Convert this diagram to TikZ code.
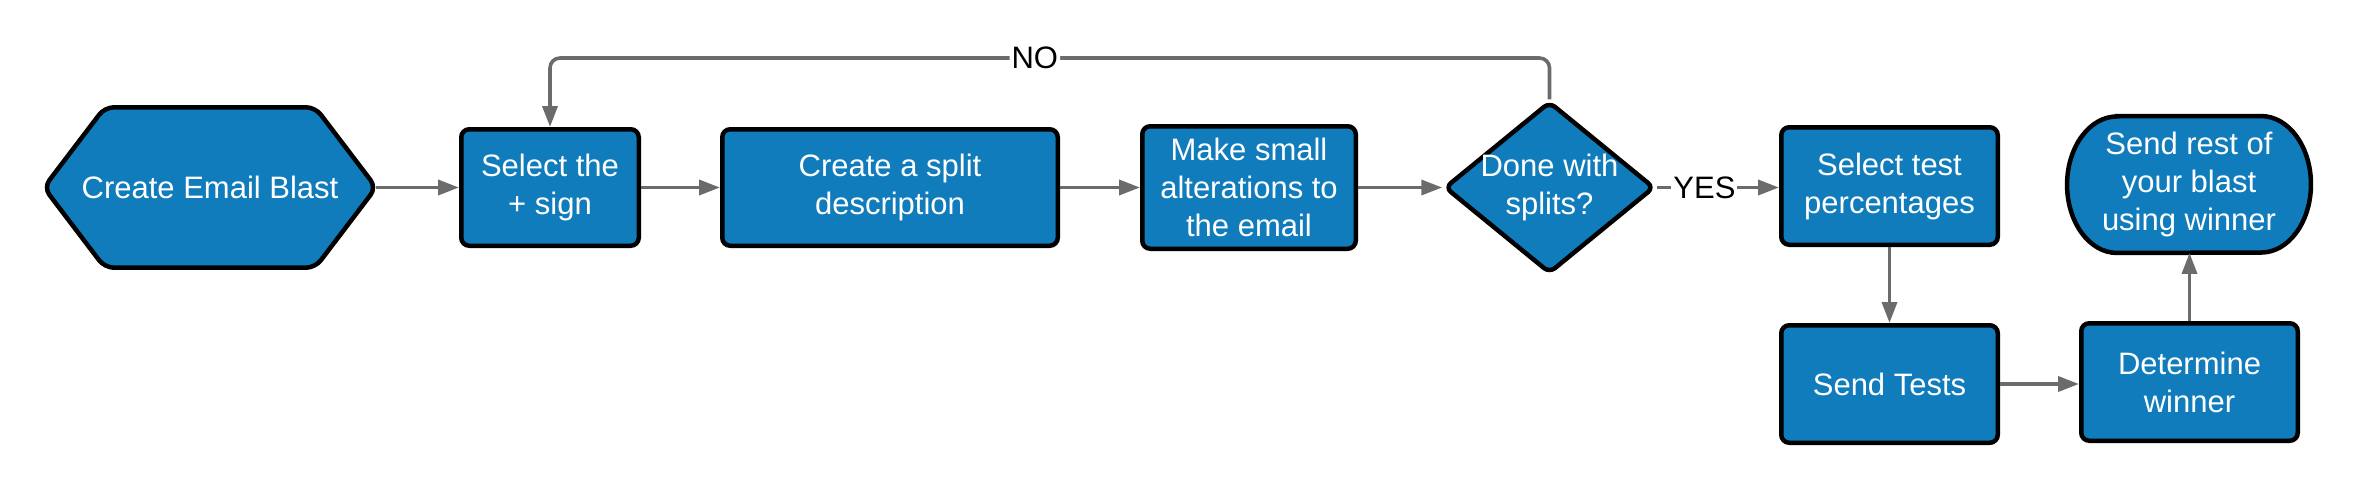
\documentclass[tikz,border=0pt]{standalone}
\usepackage{fontspec}
\setmainfont{Liberation Sans}
\usetikzlibrary{arrows.meta,shapes.geometric}
\definecolor{fillblue}{HTML}{107CBC}
\definecolor{linegray}{HTML}{6B6B6B}
\tikzset{
  shapeline/.style={draw=black, line width=4.5pt, fill=fillblue},
  box/.style={shapeline, rounded corners=8pt, inner sep=0pt, align=center, text=white, font=\fontsize{31}{38}\selectfont},
  txt/.style={align=center, text=white, font=\fontsize{31}{38}\selectfont, inner sep=0pt},
  conn/.style={draw=linegray, line width=3.6pt, -{Triangle[length=21pt,width=15pt]}},
  lbl/.style={fill=white, text=black, font=\fontsize{31}{38}\selectfont, inner sep=2pt},
}
\begin{document}
\begin{tikzpicture}[x=1pt,y=-1pt]
\useasboundingbox (0,0) rectangle (2354,485);
% hexagon
\node[minimum width=332, minimum height=160, inner sep=0] (hex) at (210,187.5) {};
\draw[shapeline, rounded corners=9pt] (hex.west) -- ([xshift=61pt]hex.north west) -- ([xshift=-61pt]hex.north east) -- (hex.east) -- ([xshift=-61pt]hex.south east) -- ([xshift=61pt]hex.south west) -- cycle;
\node[txt] at (hex) {Create Email Blast};
% boxes
\node[box, minimum width=177.5, minimum height=116.5] (b1) at (550,187.5) {Select the\\+ sign};
\node[box, minimum width=335.5, minimum height=116.5] (b2) at (890,187.5) {Create a split\\description};
\node[box, minimum width=213.5, minimum height=122.5] (b3) at (1249,187.5) {Make small\\alterations to\\the email};
\node[diamond, shapeline, rounded corners=7pt, minimum width=210, minimum height=172, inner sep=0] (d) at (1549.5,187.5) {};
\node[txt] at (d) {Done with\\splits?};
\node[box, minimum width=216.5, minimum height=117.5] (s1) at (1889.5,186) {Select test\\percentages};
\node[box, minimum width=216.5, minimum height=117.5] (s2) at (1889.5,384) {Send Tests};
\node[box, minimum width=216.5, minimum height=117.5] (dw) at (2189.5,382) {Determine\\winner};
% terminator
\node[minimum width=243.5, minimum height=136.5, inner sep=0] (sr) at (2189,184.5) {};
\draw[shapeline] ([xshift=50pt]sr.north west) -- ([xshift=-50pt]sr.north east)
  arc[start angle=90, end angle=-90, x radius=50pt, y radius=68.25pt]
  -- ([xshift=50pt]sr.south west)
  arc[start angle=270, end angle=90, x radius=50pt, y radius=68.25pt] -- cycle;
\node[txt] at (sr) {Send rest of\\your blast\\using winner};
% connectors
\coordinate (top) at (0,58);
\draw[conn] (hex.east) -- (b1.west);
\draw[conn] (b1.east) -- (b2.west);
\draw[conn] (b2.east) -- (b3.west);
\draw[conn] (b3.east) -- (d.west);
\draw[conn, rounded corners=10pt] (d.north) -- (d.north |- top) -- node[lbl, pos=0.515]{NO} (b1.north |- top) -- (b1.north);
\draw[conn] (d.east) -- node[lbl, pos=0.39]{YES} (d.east -| s1.west);
\draw[conn] (s1.south) -- (s2.north);
\draw[conn] (s2.east) -- (s2.east -| dw.west);
\draw[conn] (dw.north) -- (dw.north |- sr.south);
\end{tikzpicture}
\end{document}
